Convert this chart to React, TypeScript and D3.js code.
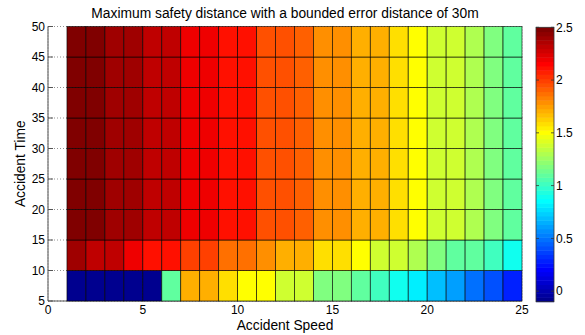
import React from 'react';
import * as d3 from 'd3';

// grid edges (pcolor style: 24 x 9 cells)
const speedEdges = [1, 2, 3, 4, 5, 6, 7, 8, 9, 10, 11, 12, 13, 14, 15, 16, 17, 18, 19, 20, 21, 22, 23, 24, 25];
const timeEdges = [5, 10, 15, 20, 25, 30, 35, 40, 45, 50];

// cell values, one array per time band (bottom to top)
const row05 = [-0.1, -0.1, -0.1, -0.1, -0.1, 1.1, 1.72, 1.7, 1.59, 1.51, 1.49, 1.39, 1.37, 1.19, 1.17, 1.1, 1.02, 0.9, 0.82, 0.69, 0.61, 0.49, 0.41, 0.29];
const row10 = [2.4, 2.32, 2.31, 2.19, 2.12, 2.1, 1.99, 1.98, 1.87, 1.86, 1.79, 1.72, 1.7, 1.6, 1.58, 1.5, 1.39, 1.37, 1.3, 1.18, 1.11, 1.09, 1.02, 0.9];
const row15 = [2.5, 2.47, 2.41, 2.38, 2.33, 2.3, 2.2, 2.18, 2.12, 2.1, 1.96, 1.95, 1.9, 1.8, 1.78, 1.72, 1.7, 1.6, 1.51, 1.39, 1.37, 1.3, 1.18, 1.1];
const row20 = [2.5, 2.47, 2.41, 2.38, 2.33, 2.3, 2.2, 2.18, 2.12, 2.1, 1.96, 1.95, 1.9, 1.8, 1.78, 1.72, 1.7, 1.6, 1.51, 1.39, 1.37, 1.3, 1.18, 1.1];
const row25 = [2.5, 2.47, 2.41, 2.38, 2.33, 2.3, 2.2, 2.18, 2.12, 2.1, 1.96, 1.95, 1.9, 1.8, 1.78, 1.72, 1.7, 1.6, 1.51, 1.39, 1.37, 1.3, 1.18, 1.1];
const row30 = [2.5, 2.47, 2.41, 2.38, 2.33, 2.3, 2.2, 2.18, 2.12, 2.1, 1.96, 1.95, 1.9, 1.8, 1.78, 1.72, 1.7, 1.6, 1.51, 1.39, 1.37, 1.3, 1.18, 1.1];
const row35 = [2.5, 2.47, 2.41, 2.38, 2.33, 2.3, 2.2, 2.18, 2.12, 2.1, 1.96, 1.95, 1.9, 1.8, 1.78, 1.72, 1.7, 1.6, 1.51, 1.39, 1.37, 1.3, 1.18, 1.1];
const row40 = [2.5, 2.47, 2.41, 2.38, 2.33, 2.3, 2.2, 2.18, 2.12, 2.1, 1.96, 1.95, 1.9, 1.8, 1.78, 1.72, 1.7, 1.6, 1.51, 1.39, 1.37, 1.3, 1.18, 1.1];
const row45 = [2.5, 2.47, 2.41, 2.38, 2.33, 2.3, 2.2, 2.18, 2.12, 2.1, 1.96, 1.95, 1.9, 1.8, 1.78, 1.72, 1.7, 1.6, 1.51, 1.39, 1.37, 1.3, 1.18, 1.1];
const rows = [row05, row10, row15, row20, row25, row30, row35, row40, row45];

const xTicks = [0, 5, 10, 15, 20, 25];
const yTicks = [5, 10, 15, 20, 25, 30, 35, 40, 45, 50];
const cbTicks = [0, 0.5, 1, 1.5, 2, 2.5];

const FONT = 'Liberation Sans, Arial, Helvetica, sans-serif';

// matlab jet(64)
function jet64(): string[] {
  const out: string[] = [];
  for (let i = 1; i <= 64; i++) {
    const r = i <= 24 ? 0 : i <= 40 ? (i - 24) / 16 : i <= 56 ? 1 : (72 - i) / 16;
    const g = i <= 8 ? 0 : i <= 24 ? (i - 8) / 16 : i <= 40 ? 1 : i <= 55 ? (56 - i) / 16 : 0;
    const b = i <= 8 ? (i + 8) / 16 : i <= 24 ? 1 : i <= 39 ? (40 - i) / 16 : 0;
    out.push(d3.rgb(r * 255, g * 255, b * 255).formatHex());
  }
  return out;
}

export default function App() {
  const W = 585, H = 335;
  const left = 48, right = 522, top = 26.5, bottom = 301;

  const x = d3.scaleLinear().domain([0, 25]).range([left, right]);
  const y = d3.scaleLinear().domain([5, 50]).range([bottom, top]);

  const all = rows.flat();
  const cmin = d3.min(all) as number;
  const cmax = d3.max(all) as number;
  const color = d3.scaleQuantize<string>().domain([cmin, cmax]).range(jet64());

  const cbX = 536, cbW = 18;
  const cbY = d3.scaleLinear().domain([cmin, cmax]).range([301.7, 27.3]);

  const cells: any[] = [];
  rows.forEach((row, j) => {
    row.forEach((v, i) => {
      cells.push({ x0: speedEdges[i], x1: speedEdges[i + 1], y0: timeEdges[j], y1: timeEdges[j + 1], v });
    });
  });

  return (
    <svg width={W} height={H} style={{ position: 'absolute', left: 0, top: 0, background: '#fff' }} fontFamily={FONT}>
      <rect width={W} height={H} fill="#fff" />
      {/* grid, under the cells */}
      {yTicks.map(t => (
        <line key={'gy' + t} x1={left} x2={right} y1={y(t)} y2={y(t)} stroke="#777" strokeWidth={0.8} strokeDasharray="1,2" />
      ))}
      {xTicks.map(t => (
        <line key={'gx' + t} x1={x(t)} x2={x(t)} y1={top} y2={bottom} stroke="#777" strokeWidth={0.8} strokeDasharray="1,2" />
      ))}
      {/* axes */}
      <line x1={left} x2={left} y1={top} y2={bottom} stroke="#555" strokeWidth={1} />
      <line x1={left} x2={right} y1={bottom} y2={bottom} stroke="#555" strokeWidth={1} />
      {yTicks.map(t => (
        <line key={'ty' + t} x1={left} x2={left + 5} y1={y(t)} y2={y(t)} stroke="#555" />
      ))}
      {/* cells */}
      {cells.map((c, k) => (
        <rect key={k} x={x(c.x0)} y={y(c.y1)} width={x(c.x1) - x(c.x0)} height={y(c.y0) - y(c.y1)}
          fill={color(c.v)} stroke="#000" strokeOpacity={0.75} strokeWidth={0.8} />
      ))}
      {/* tick labels */}
      {yTicks.map(t => (
        <text key={'ly' + t} x={left - 3} y={y(t)} dy="0.35em" textAnchor="end" fontSize={12}>{t}</text>
      ))}
      {xTicks.map(t => (
        <text key={'lx' + t} x={x(t)} y={bottom + 13} textAnchor="middle" fontSize={12}>{t}</text>
      ))}
      <text x={(left + right) / 2} y={18} textAnchor="middle" fontSize={13.8}>
        Maximum safety distance with a bounded error distance of 30m
      </text>
      <text x={(left + right) / 2} y={330} textAnchor="middle" fontSize={13.8}>Accident Speed</text>
      <text transform={`translate(25,${(top + bottom) / 2}) rotate(-90)`} textAnchor="middle" fontSize={13.8}>Accident Time</text>
      {/* colorbar */}
      {color.range().map((c, k) => {
        const [a, b] = color.invertExtent(c);
        return <rect key={'cb' + k} x={cbX} y={cbY(b)} width={cbW} height={cbY(a) - cbY(b) + 0.5} fill={c} />;
      })}
      <rect x={cbX} y={cbY(cmax)} width={cbW} height={cbY(cmin) - cbY(cmax)} fill="none" stroke="#333" strokeWidth={0.8} />
      {cbTicks.map(t => (
        <g key={'cbt' + t}>
          <line x1={cbX} x2={cbX + 3} y1={cbY(t)} y2={cbY(t)} stroke="#333" strokeWidth={0.8} />
          <line x1={cbX + cbW - 3} x2={cbX + cbW} y1={cbY(t)} y2={cbY(t)} stroke="#333" strokeWidth={0.8} />
          <text x={cbX + cbW + 2} y={cbY(t)} dy="0.35em" fontSize={12}>{t}</text>
        </g>
      ))}
    </svg>
  );
}
